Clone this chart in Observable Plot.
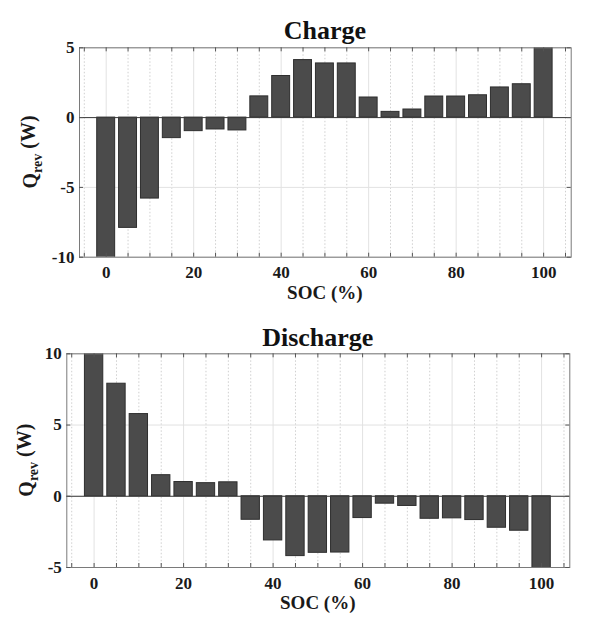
<!DOCTYPE html>
<html><head><meta charset="utf-8">
<script src="https://cdn.jsdelivr.net/npm/d3@7"></script>
<script src="https://cdn.jsdelivr.net/npm/@observablehq/plot@0.6"></script>
<style>
body{margin:0;background:#fff;}
#wrap{position:relative;width:589px;height:632px;background:#fff;overflow:hidden;}
#wrap svg{position:absolute;left:0;display:block;}
</style></head><body><div id="wrap"></div>
<script>
const soc = [0, 5, 10, 15, 20, 25, 30, 35, 40, 45, 50, 55, 60, 65, 70, 75, 80, 85, 90, 95, 100];
const charge = [-10.3, -7.9, -5.8, -1.47, -0.97, -0.85, -0.92, 1.52, 2.98, 4.12, 3.88, 3.88, 1.44, 0.41, 0.58, 1.51, 1.51, 1.6, 2.16, 2.39, 5.3];
const discharge = [10.3, 7.9, 5.77, 1.48, 1.0, 0.92, 0.98, -1.65, -3.1, -4.2, -3.97, -3.95, -1.53, -0.52, -0.68, -1.58, -1.55, -1.67, -2.21, -2.42, -5.3];
const xTicks = [0, 20, 40, 60, 80, 100];
const xMinorTicks = [-5, 0, 5, 10, 15, 20, 25, 30, 35, 40, 45, 50, 55, 60, 65, 70, 75, 80, 85, 90, 95, 100, 105];
const yTicksCharge = [-10, -5, 0, 5];
const yTicksDischarge = [-5, 0, 5, 10];
const titles = ["Charge", "Discharge"];
const xLabel = "SOC (%)";

const xDomain = [-6.1, 106.3];
const barHalf = 2.05;
const FONT = "'Liberation Serif', 'Times New Roman', serif";

function panel({values, yDomain, yTicks, title, top, height, mt, mb, ml, mr, titleY, labelX}) {
  const data = soc.map((s, i) => ({soc: s, q: values[i]}));
  const fh = height - mt - mb, fw = 589 - ml - mr;
  const chart = Plot.plot({
    width: 589, height,
    marginTop: mt, marginBottom: mb, marginLeft: ml, marginRight: mr,
    style: {fontFamily: FONT, fontWeight: "bold", fontSize: "17px", color: "#1a1a1a", background: "white", overflow: "visible"},
    x: {domain: xDomain},
    y: {domain: yDomain},
    marks: [
      Plot.ruleX(xMinorTicks.filter(t => !xTicks.includes(t)), {stroke: "#cfcfcf", strokeDasharray: "1.5,2"}),
      Plot.ruleX(xTicks, {stroke: "#e2e2e2"}),
      Plot.ruleY(yTicks, {stroke: "#e2e2e2"}),
      Plot.rectY(data, {x1: d => d.soc - barHalf, x2: d => d.soc + barHalf, y1: 0, y2: "q", fill: "#4b4b4b", stroke: "#2e2e2e", strokeWidth: 1, clip: true}),
      Plot.ruleY([0], {stroke: "#3a3a3a"}),
      Plot.frame({stroke: "#7a7a7a"}),
      Plot.ruleX(xMinorTicks, {stroke: "#555", insetTop: fh - 4}),
      Plot.ruleX(xMinorTicks, {stroke: "#555", insetBottom: fh - 4}),
      Plot.ruleY(yTicks, {stroke: "#555", insetRight: fw - 4}),
      Plot.ruleY(yTicks, {stroke: "#555", insetLeft: fw - 4}),
      Plot.axisX(xTicks, {tickSize: 0, tickPadding: 9, label: null, tickFormat: d => String(d)}),
      Plot.axisY(yTicks, {tickSize: 0, tickPadding: 5, label: null, tickFormat: d => String(d)})
    ]
  });
  chart.style.top = top + "px";
  const svg = d3.select(chart);
  const cx = ml + fw / 2;
  svg.append("text").attr("x", cx).attr("y", titleY).attr("text-anchor", "middle")
    .attr("font-family", FONT).attr("font-weight", "bold").attr("font-size", 26).attr("fill", "#111").text(title);
  svg.append("text").attr("x", cx).attr("y", mt + fh + 42).attr("text-anchor", "middle")
    .attr("font-family", FONT).attr("font-weight", "bold").attr("font-size", 19).attr("fill", "#1a1a1a").text(xLabel);
  const yl = svg.append("text").attr("transform", `translate(${labelX},${mt + fh / 2}) rotate(-90)`)
    .attr("text-anchor", "middle").attr("font-family", FONT).attr("font-weight", "bold").attr("font-size", 20).attr("fill", "#1a1a1a");
  yl.append("tspan").text("Q");
  yl.append("tspan").attr("font-size", 14).attr("dy", "0.35em").text("rev");
  yl.append("tspan").attr("dy", "-0.35em").text("\u00a0(W)");
  document.getElementById("wrap").appendChild(chart);
}

panel({values: charge, yDomain: [-10, 5], yTicks: yTicksCharge, title: titles[0], top: 0, height: 310, mt: 47.3, mb: 53.3, ml: 79, mr: 18.3, titleY: 39, labelX: 37});
panel({values: discharge, yDomain: [-5, 10], yTicks: yTicksDischarge, title: titles[1], top: 310, height: 322, mt: 43.3, mb: 65, ml: 66.3, mr: 19.7, titleY: 35.7, labelX: 33});
</script></body></html>
